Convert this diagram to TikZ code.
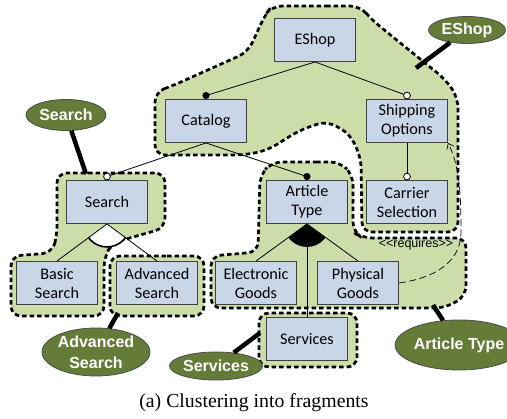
\documentclass[tikz,border=0pt]{standalone}
\usepackage{fontspec}
\setmainfont{Liberation Serif}
\newfontfamily\boxfont{Carlito}
\newfontfamily\tagfont{Liberation Sans}
\usetikzlibrary{arrows.meta,calc,shapes.geometric}

\definecolor{fragfill}{RGB}{204,221,170}
\definecolor{featfill}{RGB}{200,214,232}
\definecolor{tagfill}{RGB}{100,124,55}

\begin{document}
\begin{tikzpicture}[x=1pt,y=-1pt,
  feature/.style={draw=black!75, fill=featfill, line width=0.9pt,
    minimum width=81pt, minimum height=43pt, inner sep=0pt, align=center,
    font=\boxfont\fontsize{16.2}{19}\selectfont},
  fragment/.style={fill=fragfill, draw=black, line width=2.7pt,
    dash pattern=on 4.5pt off 3pt, rounded corners=10pt},
  tag/.style={ellipse, draw=black!70, fill=tagfill, line width=0.8pt,
    text=white, inner sep=0pt, align=center,
    font=\tagfont\bfseries\fontsize{16}{21}\selectfont},
  tagline/.style={line width=4.5pt},
  rel/.style={line width=0.8pt},
  mand/.style={fill=black},
  opt/.style={fill=white, draw=black, line width=0.8pt},
  requires/.style={line width=0.7pt, dash pattern=on 7pt off 3.5pt,
    -{Straight Barb[length=5pt,width=8pt]}}
]
\useasboundingbox (0,0) rectangle (507,419);

% fragments (clusters)
\path[fragment] (316,6) -- (360,6) -- (372,20) -- (446,80) -- (458,98)
  -- (458,232) -- (362,232) -- (361,158) -- (350,134) -- (327,121)
  -- (300,130) -- (268,150) -- (245,155) -- (155,155) -- (155,92)
  -- (172,86) -- (248,52) -- (265,15) -- (272,6) -- cycle;
\path[fragment] (110,173) -- (165,173) -- (165,228) -- (112,243)
  -- (104,258) -- (104,316) -- (11,316) -- (11,256) -- (52,253)
  -- (57,236) -- (57,173) -- cycle;
\path[fragment] (157,256) -- (204,256) -- (204,316) -- (110,316)
  -- (110,256) -- cycle;
\path[fragment] (306,162) -- (340,162) -- (353,175) -- (353,232)
  -- (362,238) -- (466,238) -- (466,296) -- (445,308) -- (211,308)
  -- (211,256) -- (258,252) -- (260,175) -- (272,162) -- cycle;
\path[fragment] (308,313) -- (357,313) -- (357,367) -- (259,367)
  -- (259,313) -- cycle;

% features
\node[feature] (eshop)  at (315,40)  {EShop};
\node[feature] (cat)    at (206,121) {Catalog};
\node[feature] (ship)   at (407,121) {Shipping\\Options};
\node[feature] (search) at (107,202) {Search};
\node[feature] (atype)  at (307,202) {Article\\Type};
\node[feature] (carr)   at (407,202) {Carrier\\Selection};
\node[feature] (basic)  at (57,283)  {Basic\\Search};
\node[feature] (adv)    at (157,283) {Advanced\\Search};
\node[feature] (elec)   at (256,283) {Electronic\\Goods};
\node[feature] (phys)   at (358,283) {Physical\\Goods};
\node[feature] (serv)   at (307,339) {Services};

% fragment tags
\node[tag, minimum width=77pt, minimum height=27pt] (tEshop) at (467,30) {EShop};
\node[tag, minimum width=80pt, minimum height=31pt] (tSearch) at (66,115) {Search};
\node[tag, minimum width=107pt, minimum height=48pt] (tAdv) at (96,352) {Advanced\\Search};
\node[tag, minimum width=82pt, minimum height=28pt] (tServ) at (216,366) {Services};
\node[tag, minimum width=104pt, minimum height=50pt] (tArt) at (459,345) {Article Type};

\coordinate (pEshop) at (416,68);
\coordinate (pSearch) at (86,174);
\coordinate (pAdv) at (118,313);
\coordinate (pServ) at (260,333);
\coordinate (pArt) at (433,305);
\draw[tagline] (tEshop) -- (pEshop);
\draw[tagline] (tSearch) -- (pSearch);
\draw[tagline] (tAdv) -- (pAdv);
\draw[tagline] (tServ) -- (pServ);
\draw[tagline] (tArt) -- (pArt);

% group arcs
\begin{scope}
  \clip (search.south) -- (basic.north) -- (adv.north) -- cycle;
  \filldraw[fill=white, draw=black, line width=1.6pt] (search.south) circle (23pt);
\end{scope}
\begin{scope}
  \clip (atype.south) -- (elec.north) -- (phys.north) -- cycle;
  \fill[black] (atype.south) circle (23pt);
\end{scope}

% relations
\coordinate (cCat) at ($(cat.north)+(0,-3.5)$);
\coordinate (cShip) at ($(ship.north)+(0,-3.5)$);
\coordinate (cSearch) at ($(search.north)+(0,-3.5)$);
\coordinate (cAtype) at ($(atype.north)+(0,-3.5)$);
\coordinate (cCarr) at ($(carr.north)+(0,-3.5)$);
\draw[rel] (eshop.south) -- (cCat);
\draw[rel] (eshop.south) -- (cShip);
\draw[rel] (cat.south) -- (cSearch);
\draw[rel] (cat.south) -- (cAtype);
\draw[rel] (ship.south) -- (cCarr);
\draw[rel] (search.south) -- (basic.north);
\draw[rel] (search.south) -- (adv.north);
\draw[rel] (atype.south) -- (elec.north);
\draw[rel] (atype.south) -- (phys.north);
\draw[rel] (atype.south) -- (serv.north);
\fill[mand] (cCat) circle (3.6pt);
\fill[mand] (cAtype) circle (3.6pt);
\filldraw[opt] (cShip) circle (3.4pt);
\filldraw[opt] (cSearch) circle (3.4pt);
\filldraw[opt] (cCarr) circle (3.4pt);

% cross-tree constraint
\draw[requires] (phys.east) .. controls (435,278) and (461,262) .. (461,232)
  .. controls (461,190) and (459,165) .. (ship.south east);
\node[font=\tagfont\fontsize{12.5}{14}\selectfont, inner sep=0pt] (reqlabel)
  at (416,244) {<<requires>>};

% caption
\node[font=\fontsize{19.8}{22}\selectfont, inner sep=0pt] (caption) at (254,403)
  {(a) Clustering into fragments};
\end{tikzpicture}
\end{document}
